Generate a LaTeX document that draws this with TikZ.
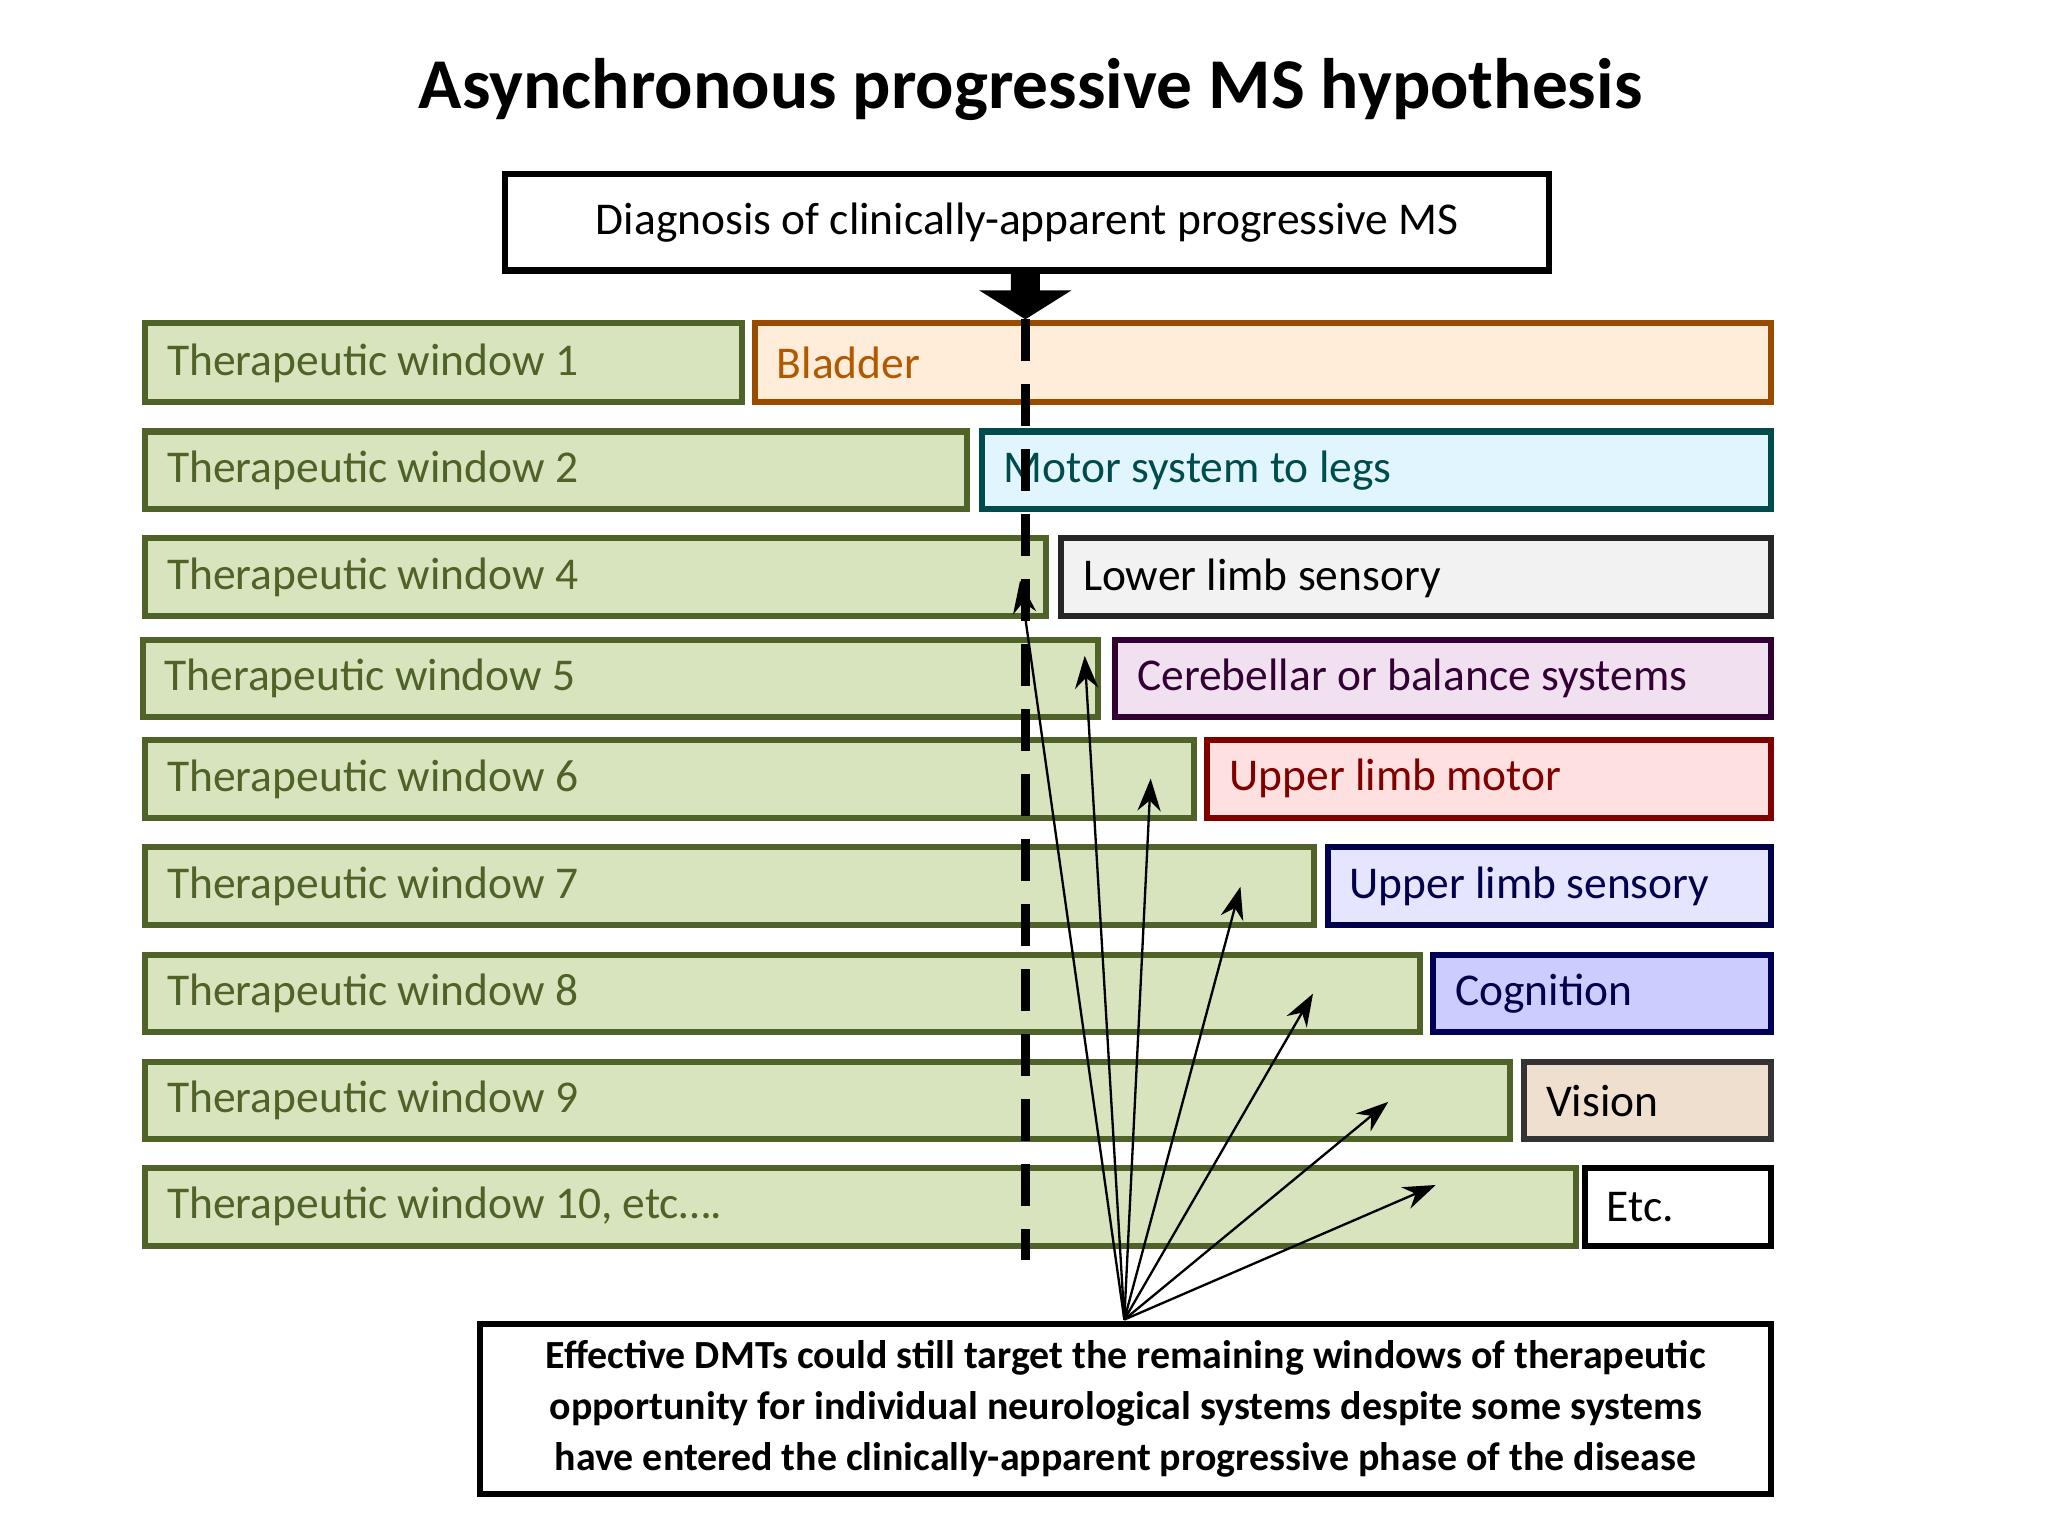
\documentclass[tikz,border=0pt]{standalone}
\usepackage{fontspec}
\setmainfont{Carlito}
\usetikzlibrary{arrows.meta}
\definecolor{gf}{HTML}{D7E4BD}\definecolor{gb}{HTML}{4F6228}
\tikzset{lbl/.style={anchor=west,inner sep=0pt,font=\fontsize{9.8pt}{12pt}\selectfont},
 ar/.style={-{Stealth[length=7pt,width=5pt]},line width=0.5pt}}
\begin{document}
\begin{tikzpicture}[x=0.01cm,y=-0.01cm]
\useasboundingbox (0,0) rectangle (1552,1164);
\node[font=\bfseries\fontsize{15.4pt}{18pt}\selectfont] (title) at (781,68) {Asynchronous progressive MS hypothesis};
\draw[line width=1.3pt] (383,132) rectangle (1174,205);
\node[font=\fontsize{9.8pt}{12pt}\selectfont] (diag) at (778.5,168.5) {Diagnosis of clinically-apparent progressive MS};
\newcommand\rowbox[9]{%
 \fill[gf] (#1,#2) rectangle (#3,#4);
 \draw[gb,line width=1.3pt] (#1,#2) rectangle (#3,#4);
 \node[lbl,text=gb] (w#9) at (#1+16,{(#2+#4)/2}) {#5};
 \fill[#7] (#6,#2) rectangle (1342,#4);
 \draw[#8,line width=1.3pt] (#6,#2) rectangle (1342,#4);}
\rowbox{110}{245}{562}{305}{Therapeutic window 1}{572}{orange!15}{orange!60!black}{1}
\node[lbl,text=orange!70!black] (sA) at (588,275) {Bladder};
\rowbox{110}{327}{733}{386}{Therapeutic window 2}{744}{cyan!12}{teal!60!black}{2}
\node[lbl,text=teal!60!black] (sB) at (760,357) {Motor system to legs};
\rowbox{110}{408}{793}{467}{Therapeutic window 4}{804}{black!5}{black!85}{4}
\node[lbl,text=black] (sC) at (820,438) {Lower limb sensory};
\rowbox{108}{485}{832}{543}{Therapeutic window 5}{845}{violet!12}{violet!40!black}{5}
\node[lbl,text=violet!40!black] (sD) at (861,514) {Cerebellar or balance systems};
\rowbox{110}{561}{905}{620}{Therapeutic window 6}{915}{red!12}{red!50!black}{6}
\node[lbl,text=red!50!black] (sE) at (931,590) {Upper limb motor};
\rowbox{110}{642}{996}{701}{Therapeutic window 7}{1006}{blue!10}{blue!30!black}{7}
\node[lbl,text=blue!30!black] (sF) at (1022,672) {Upper limb sensory};
\rowbox{110}{724}{1076}{782}{Therapeutic window 8}{1086}{blue!20}{blue!35!black}{8}
\node[lbl,text=blue!30!black] (sG) at (1102,753) {Cognition};
\rowbox{110}{805}{1144}{863}{Therapeutic window 9}{1155}{brown!25}{black!80}{9}
\node[lbl,text=black] (sH) at (1171,834) {Vision};
\rowbox{110}{885}{1194}{944}{Therapeutic window 10, etc….}{1201}{white}{black}{10}
\node[lbl,text=black] (sI) at (1217,915) {Etc.};
\coordinate (a1) at (777,242);
\fill (766,205) -- (788,205) -- (788,220) -- (812,220) -- (777,242) -- (742,220) -- (766,220) -- cycle;
\coordinate (d1) at (777,955);
\draw[line width=1.8pt,dash pattern=on 9pt off 5pt] (a1) -- (d1);
\draw[line width=1.3pt] (364,1003) rectangle (1342,1132);
\node[align=center,font=\bfseries\fontsize{8.6pt}{11pt}\selectfont] (eff) at (853,1067.5) {Effective DMTs could still target the remaining windows of therapeutic\\opportunity for individual neurological systems despite some systems\\have entered the clinically-apparent progressive phase of the disease};
\coordinate (o) at (852,1000);
\foreach \x/\y [count=\i] in {773/440,822/497,872/590,940/672,995/753,1052/835,1088/898}
 {\coordinate (t\i) at (\x,\y); \draw[ar] (o) -- (t\i);}
\end{tikzpicture}
\end{document}
